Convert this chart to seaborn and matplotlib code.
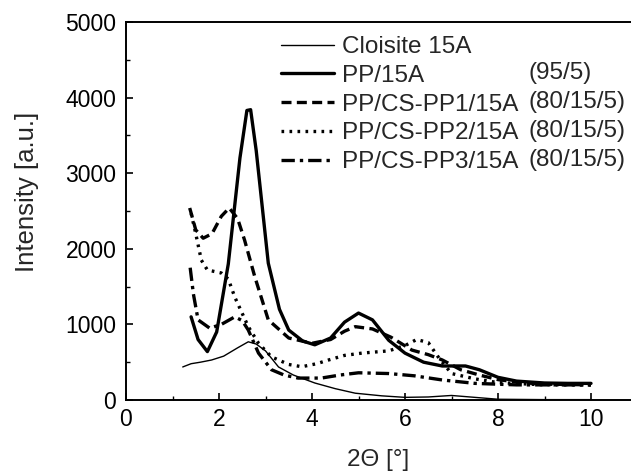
import numpy as np
import pandas as pd
import matplotlib
matplotlib.use("Agg")
import matplotlib.pyplot as plt
import seaborn as sns
from matplotlib.ticker import MultipleLocator

# Data
x_cloisite = [1.22, 1.4, 1.6, 1.84, 2.1, 2.4, 2.63, 2.8, 3.0, 3.28, 3.6, 4.06, 4.5, 4.93, 5.5, 6.0, 6.5, 7.0, 7.5, 8.0, 9.0, 10.0]
y_cloisite = [437, 480, 500, 529, 580, 690, 770, 740, 650, 437, 330, 225, 150, 90, 55, 35, 40, 60, 35, 10, 5, 5]

x_pp15a = [1.4, 1.55, 1.75, 1.95, 2.2, 2.45, 2.6, 2.68, 2.8, 3.06, 3.3, 3.5, 3.8, 4.06, 4.4, 4.7, 5.0, 5.3, 5.65, 6.0, 6.4, 6.8, 7.3, 7.6, 8.0, 8.4, 9.0, 9.5, 10.0]
y_pp15a = [1100, 800, 640, 900, 1800, 3200, 3830, 3840, 3300, 1810, 1200, 925, 780, 730, 820, 1030, 1150, 1060, 790, 620, 500, 450, 450, 400, 300, 250, 225, 220, 220]

x_cspp1 = [1.37, 1.5, 1.66, 1.85, 2.05, 2.22, 2.4, 2.55, 2.77, 3.06, 3.5, 4.0, 4.4, 4.7, 4.93, 5.3, 5.7, 6.15, 6.5, 6.8, 7.2, 7.6, 8.0, 8.5, 9.0, 10.0]
y_cspp1 = [2540, 2250, 2140, 2200, 2430, 2540, 2400, 2115, 1630, 1060, 820, 750, 800, 910, 970, 940, 830, 660, 600, 530, 400, 330, 270, 230, 210, 200]

x_cspp2 = [1.4, 1.5, 1.62, 1.75, 2.05, 2.2, 2.34, 2.63, 2.85, 3.13, 3.5, 3.78, 4.1, 4.36, 4.7, 5.07, 5.65, 6.0, 6.25, 6.5, 6.73, 7.0, 7.5, 8.0, 9.0, 10.0]
y_cspp2 = [2470, 2200, 1850, 1720, 1680, 1600, 1360, 970, 750, 570, 470, 440, 480, 530, 590, 620, 650, 720, 800, 760, 555, 350, 280, 230, 200, 200]

x_cspp3 = [1.38, 1.45, 1.55, 1.8, 2.05, 2.34, 2.5, 2.63, 2.85, 3.13, 3.4, 3.7, 4.2, 4.6, 5.0, 5.65, 6.2, 6.8, 7.5, 8.4, 9.0, 10.0]
y_cspp3 = [1750, 1400, 1060, 950, 1000, 1100, 1050, 925, 620, 400, 330, 290, 290, 330, 360, 350, 320, 265, 220, 200, 200, 200]

labels = ["Cloisite 15A", "PP/15A", "PP/CS-PP1/15A", "PP/CS-PP2/15A", "PP/CS-PP3/15A"]
ratios = ["", "(95/5)", "(80/15/5)", "(80/15/5)", "(80/15/5)"]

sns.set_style("ticks")
plt.rcParams["font.family"] = ["Liberation Sans", "DejaVu Sans"]

fig = plt.figure(figsize=(6.31, 4.72), dpi=100)
ax = fig.add_axes([126 / 631, 72 / 472, 505 / 631, 378 / 472])

series = [(x_cloisite, y_cloisite), (x_pp15a, y_pp15a), (x_cspp1, y_cspp1),
          (x_cspp2, y_cspp2), (x_cspp3, y_cspp3)]
styles = [dict(lw=1.0, ls="-"),
          dict(lw=2.4, ls="-"),
          dict(lw=2.4, ls=(0, (3, 1.6))),
          dict(lw=2.4, ls=(0, (0.8, 1.6))),
          dict(lw=2.4, ls=(0, (4, 1.5, 1, 1.5)))]

for (xs, ys), lab, st in zip(series, labels, styles):
    df = pd.DataFrame({"x": xs, "y": ys})
    sns.lineplot(data=df, x="x", y="y", ax=ax, color="black", label=lab,
                 linewidth=st["lw"], linestyle=st["ls"], sort=False)

ax.set_xlim(0, 505 / 46.5)
ax.set_ylim(0, 5000)
ax.xaxis.set_major_locator(MultipleLocator(2))
ax.xaxis.set_minor_locator(MultipleLocator(1))
ax.yaxis.set_major_locator(MultipleLocator(1000))
ax.yaxis.set_minor_locator(MultipleLocator(500))
ax.tick_params(which="both", direction="in", colors="black", labelsize=16.5)
ax.tick_params(which="major", length=5, width=1.2)
ax.tick_params(which="minor", length=3, width=1.0)
ax.tick_params(axis="y", pad=7)
ax.tick_params(axis="x", pad=5.5)
for s in ["left", "bottom", "top"]:
    ax.spines[s].set_linewidth(1.4)
    ax.spines[s].set_color("black")
ax.spines["right"].set_visible(False)

ax.set_xlabel("2Θ [°]", fontsize=17.5)
ax.set_ylabel("Intensity [a.u.]", fontsize=18.5)
ax.xaxis.set_label_coords(0.5, (400 - 449) / 378)
ax.yaxis.set_label_coords((39 - 126) / 505, (400 - 192) / 378)

leg = ax.legend(loc="upper left", bbox_to_anchor=((281 - 126) / 505, (400 - 36) / 378),
                frameon=False, fontsize=17.5, handlelength=2.2, handletextpad=0.33,
                labelspacing=0.28, borderaxespad=0, borderpad=0)

row_px = [44, 73, 102, 131, 160]
for r, py in zip(ratios, row_px):
    if r:
        ax.text((528 - 126) / 505, (400 - py) / 378, r, transform=ax.transAxes,
                fontsize=17.5, va="center", ha="left")

fig.savefig("out.png", dpi=100)
